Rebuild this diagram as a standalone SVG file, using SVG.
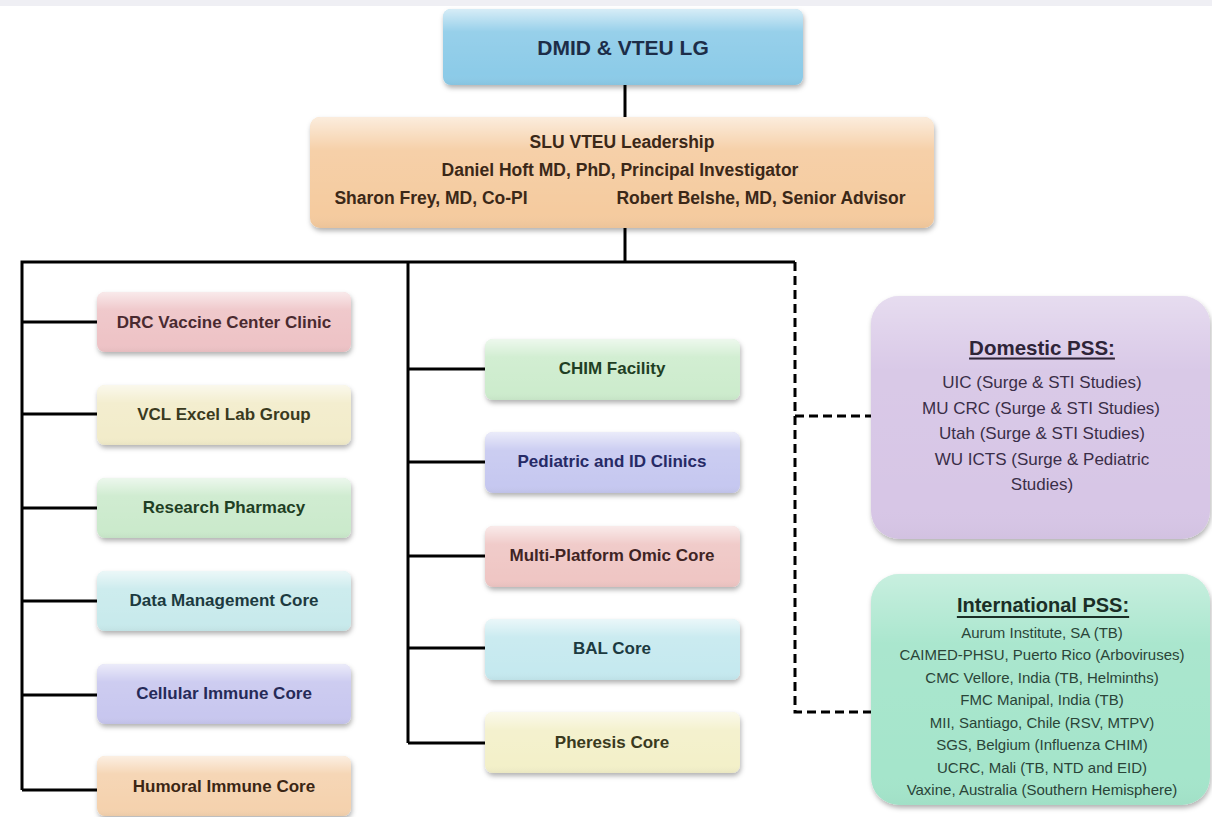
<svg xmlns="http://www.w3.org/2000/svg" width="1212" height="817" viewBox="0 0 1212 817">
<defs>
<style>
.t{font-family:"Liberation Sans",Arial,sans-serif;text-anchor:middle;dominant-baseline:central}
.b{font-weight:bold;font-size:17px}
.lead{font-weight:bold;font-size:17.5px;fill:#3b2818}
.dom{font-size:17px;fill:#3a2e48}
.intl{font-size:15px;fill:#2a4438}
.ttl{font-weight:bold;font-size:20.5px;text-decoration:underline}
.ln{stroke:#000;stroke-width:3;fill:none}
.dash{stroke:#000;stroke-width:3;fill:none;stroke-dasharray:9 5}
.gl{fill:url(#gloss)}
</style>
<linearGradient id="gloss" x1="0" y1="0" x2="0" y2="1">
<stop offset="0" stop-color="#fff" stop-opacity="0.65"/>
<stop offset="0.3" stop-color="#fff" stop-opacity="0.1"/>
<stop offset="0.85" stop-color="#fff" stop-opacity="0"/>
<stop offset="1" stop-color="#000" stop-opacity="0.04"/>
</linearGradient>
<filter id="sh" x="-10%" y="-20%" width="120%" height="150%">
<feDropShadow dx="1" dy="3" stdDeviation="2.5" flood-color="#000" flood-opacity="0.3"/>
</filter>
</defs>
<rect x="0" y="0" width="1212" height="817" fill="#ffffff"/>
<rect x="0" y="0" width="1212" height="6" fill="#efeff4"/>

<g id="connectors">
<line class="ln" x1="625" y1="85" x2="625" y2="118"/>
<line class="ln" x1="625" y1="228" x2="625" y2="262"/>
<polyline class="ln" points="22,790 22,262 795,262"/>
<line class="ln" x1="408" y1="262" x2="408" y2="743"/>
<line class="ln" x1="22" y1="322" x2="97" y2="322"/>
<line class="ln" x1="22" y1="414" x2="97" y2="414"/>
<line class="ln" x1="22" y1="508" x2="97" y2="508"/>
<line class="ln" x1="22" y1="601" x2="97" y2="601"/>
<line class="ln" x1="22" y1="695" x2="97" y2="695"/>
<line class="ln" x1="22" y1="790" x2="97" y2="790"/>
<line class="ln" x1="408" y1="369" x2="485" y2="369"/>
<line class="ln" x1="408" y1="462" x2="485" y2="462"/>
<line class="ln" x1="408" y1="556" x2="485" y2="556"/>
<line class="ln" x1="408" y1="648" x2="485" y2="648"/>
<line class="ln" x1="408" y1="743" x2="485" y2="743"/>
<polyline class="dash" points="795,262 795,712 872,712"/>
<line class="dash" x1="795" y1="416" x2="872" y2="416"/>
</g>

<g id="dmid">
<rect x="443" y="9" width="360" height="76" rx="8" fill="#8ccbe8" filter="url(#sh)"/>
<rect class="gl" x="443" y="9" width="360" height="76" rx="8"/>
<text class="t b" x="623" y="47" fill="#1d2d48" style="font-size:21px">DMID &amp; VTEU LG</text>
</g>

<g id="slu">
<rect x="310" y="117" width="624" height="111" rx="10" fill="#f5cb9f" filter="url(#sh)"/>
<rect class="gl" x="310" y="117" width="624" height="111" rx="10"/>
<text class="t lead" x="622" y="142">SLU VTEU  Leadership</text>
<text class="t lead" x="620" y="170">Daniel Hoft MD, PhD, Principal  Investigator</text>
<text class="t lead" x="431" y="198">Sharon Frey, MD, Co-PI</text>
<text class="t lead" x="761" y="198">Robert Belshe, MD, Senior Advisor</text>
</g>

<g id="drc">
<rect x="97" y="292" width="254" height="60" rx="8" fill="#eec3c6" filter="url(#sh)"/>
<rect class="gl" x="97" y="292" width="254" height="60" rx="8"/>
<text class="t b" x="224" y="322" fill="#4a2a30">DRC Vaccine Center Clinic</text>
</g>
<g id="vcl">
<rect x="97" y="385" width="254" height="60" rx="8" fill="#f2ecca" filter="url(#sh)"/>
<rect class="gl" x="97" y="385" width="254" height="60" rx="8"/>
<text class="t b" x="224" y="414" fill="#3a3a1e">VCL Excel Lab Group</text>
</g>
<g id="pharmacy">
<rect x="97" y="478" width="254" height="60" rx="8" fill="#cbeacc" filter="url(#sh)"/>
<rect class="gl" x="97" y="478" width="254" height="60" rx="8"/>
<text class="t b" x="224" y="507" fill="#1f3f24">Research Pharmacy</text>
</g>
<g id="datamgmt">
<rect x="97" y="571" width="254" height="60" rx="8" fill="#c8eaec" filter="url(#sh)"/>
<rect class="gl" x="97" y="571" width="254" height="60" rx="8"/>
<text class="t b" x="224" y="600" fill="#1c3a40">Data Management  Core</text>
</g>
<g id="cellular">
<rect x="97" y="664" width="254" height="60" rx="8" fill="#c8c7ef" filter="url(#sh)"/>
<rect class="gl" x="97" y="664" width="254" height="60" rx="8"/>
<text class="t b" x="224" y="693" fill="#262a58">Cellular  Immune Core</text>
</g>
<g id="humoral">
<rect x="97" y="756" width="254" height="60" rx="8" fill="#f5d2ae" filter="url(#sh)"/>
<rect class="gl" x="97" y="756" width="254" height="60" rx="8"/>
<text class="t b" x="224" y="786" fill="#3b2614">Humoral Immune Core</text>
</g>

<g id="chim">
<rect x="485" y="339" width="255" height="61" rx="8" fill="#cdeccd" filter="url(#sh)"/>
<rect class="gl" x="485" y="339" width="255" height="61" rx="8"/>
<text class="t b" x="612" y="368" fill="#1f3f24">CHIM Facility</text>
</g>
<g id="pediatric">
<rect x="485" y="432" width="255" height="61" rx="8" fill="#c6c8f0" filter="url(#sh)"/>
<rect class="gl" x="485" y="432" width="255" height="61" rx="8"/>
<text class="t b" x="612" y="461" fill="#262a66">Pediatric  and ID Clinics</text>
</g>
<g id="omic">
<rect x="485" y="526" width="255" height="61" rx="8" fill="#efc6c4" filter="url(#sh)"/>
<rect class="gl" x="485" y="526" width="255" height="61" rx="8"/>
<text class="t b" x="612" y="555" fill="#402424">Multi-Platform  Omic Core</text>
</g>
<g id="bal">
<rect x="485" y="619" width="255" height="61" rx="8" fill="#c5e9ef" filter="url(#sh)"/>
<rect class="gl" x="485" y="619" width="255" height="61" rx="8"/>
<text class="t b" x="612" y="648" fill="#1c3a40">BAL Core</text>
</g>
<g id="pheresis">
<rect x="485" y="712" width="255" height="61" rx="8" fill="#f3f0c9" filter="url(#sh)"/>
<rect class="gl" x="485" y="712" width="255" height="61" rx="8"/>
<text class="t b" x="612" y="742" fill="#3a3a1e">Pheresis Core</text>
</g>

<g id="domestic">
<rect x="871" y="296" width="339" height="243" rx="28" fill="#d7c6e6" filter="url(#sh)"/>
<rect class="gl" x="871" y="296" width="339" height="243" rx="28" opacity="0.6"/>
<text class="t ttl" x="1042" y="347" fill="#2e2438">Domestic PSS:</text>
<text class="t dom" x="1042" y="382">UIC (Surge &amp; STI Studies)</text>
<text class="t dom" x="1041" y="408">MU CRC (Surge  &amp; STI Studies)</text>
<text class="t dom" x="1042" y="433">Utah (Surge &amp; STI Studies)</text>
<text class="t dom" x="1042" y="459">WU ICTS (Surge  &amp; Pediatric</text>
<text class="t dom" x="1042" y="484">Studies)</text>
</g>

<g id="international">
<rect x="871" y="574" width="339" height="231" rx="28" fill="#a5e5cb" filter="url(#sh)"/>
<rect class="gl" x="871" y="574" width="339" height="231" rx="28" opacity="0.6"/>
<text class="t ttl" x="1043" y="605" fill="#1a2e26" style="font-size:20px">International PSS:</text>
<text class="t intl" x="1042" y="632">Aurum Institute, SA (TB)</text>
<text class="t intl" x="1042" y="654">CAIMED-PHSU, Puerto Rico (Arboviruses)</text>
<text class="t intl" x="1042" y="677">CMC Vellore, India (TB, Helminths)</text>
<text class="t intl" x="1042" y="699">FMC Manipal, India (TB)</text>
<text class="t intl" x="1042" y="722">MII, Santiago, Chile (RSV, MTPV)</text>
<text class="t intl" x="1042" y="744">SGS, Belgium (Influenza CHIM)</text>
<text class="t intl" x="1042" y="767">UCRC, Mali (TB, NTD and EID)</text>
<text class="t intl" x="1042" y="789">Vaxine, Australia (Southern Hemisphere)</text>
</g>
</svg>
